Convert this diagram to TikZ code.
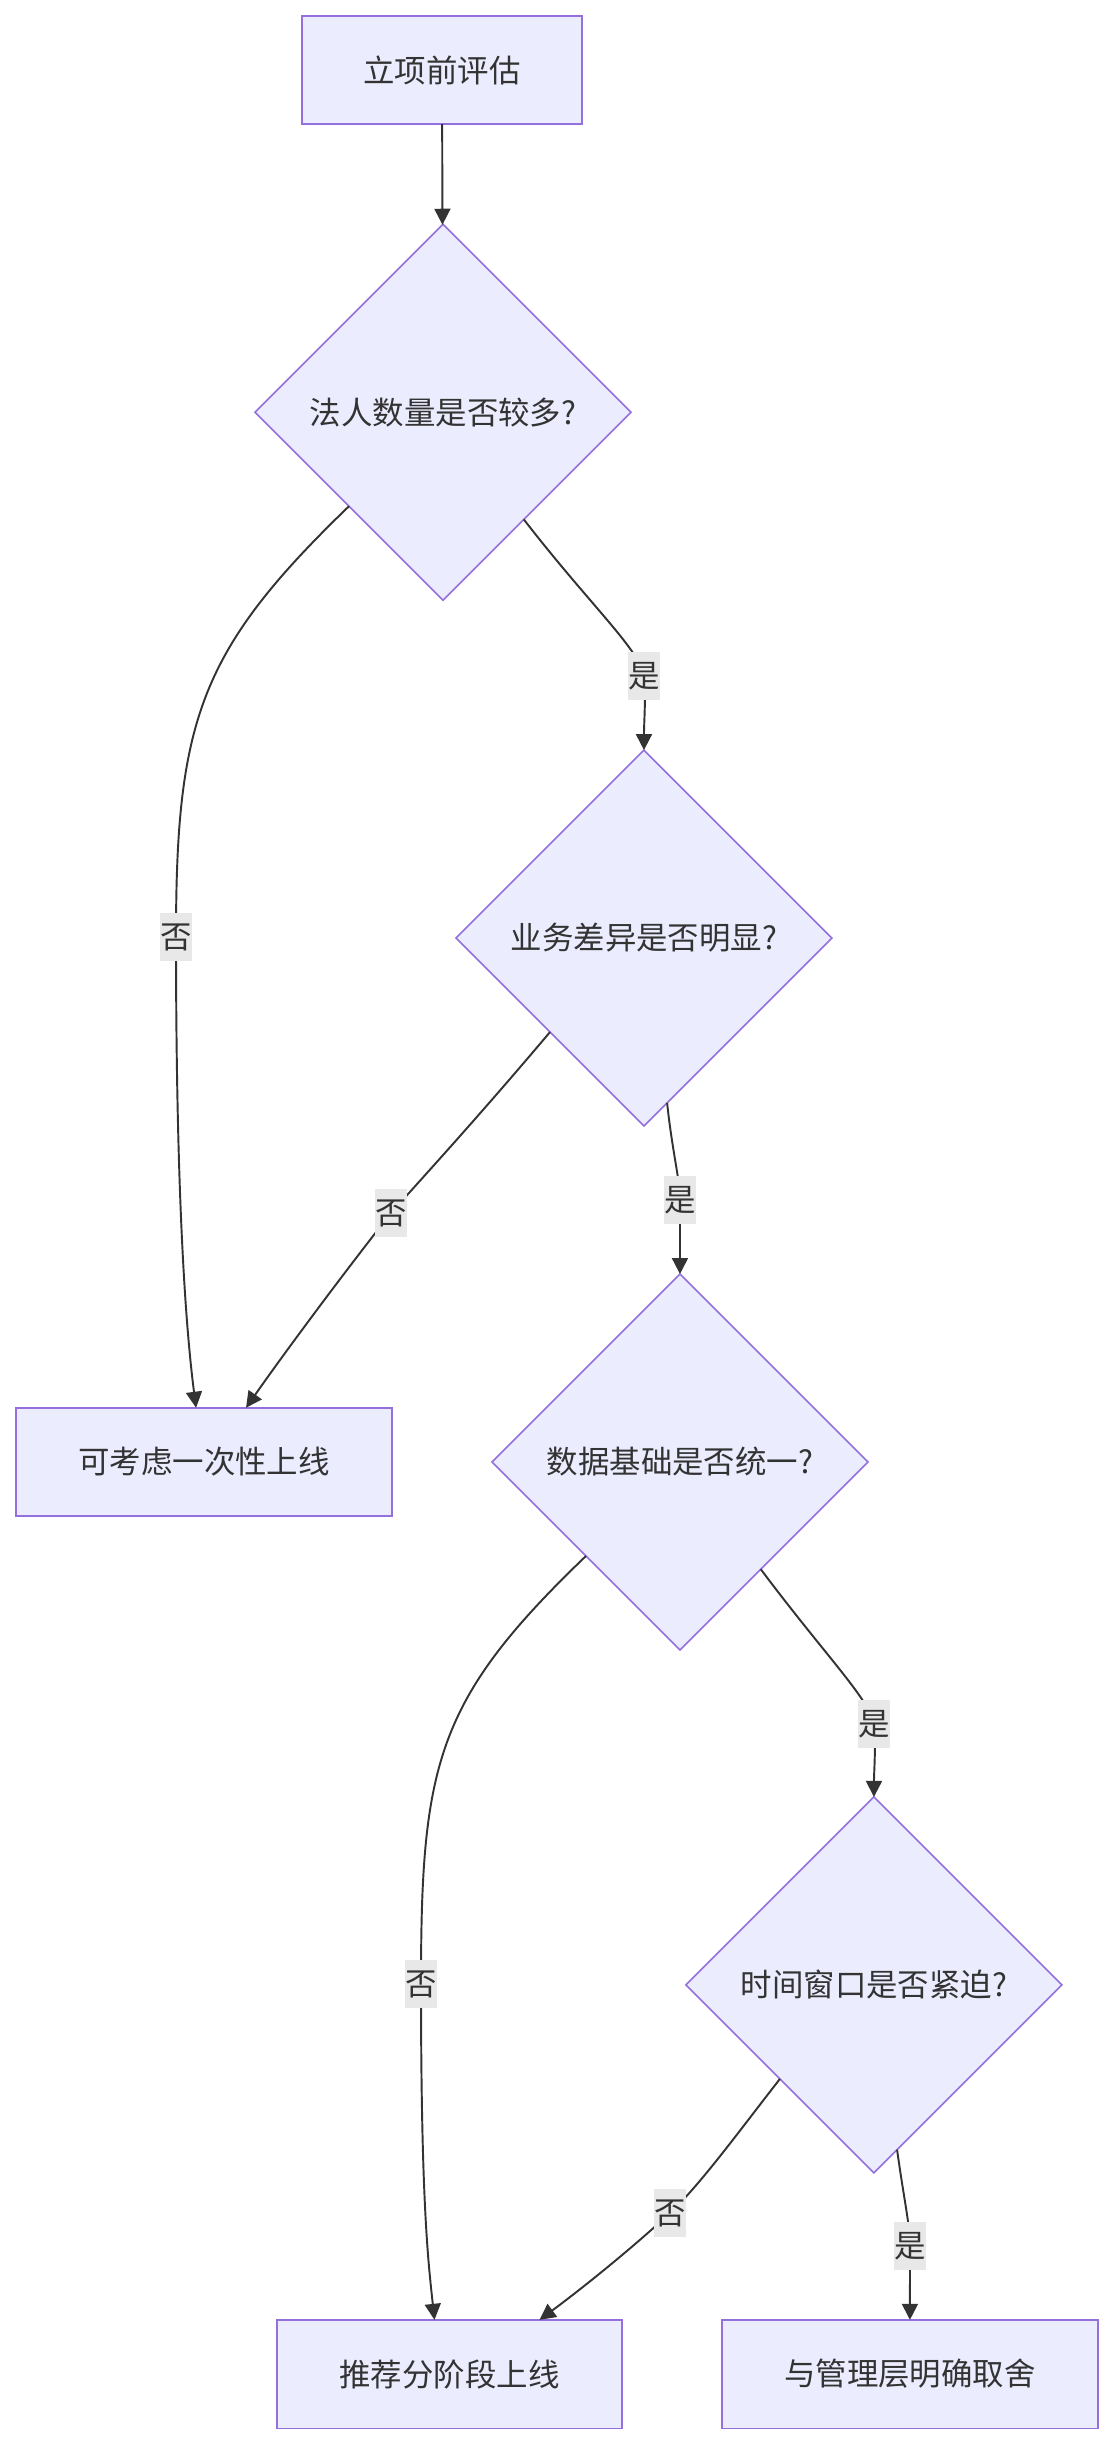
\documentclass[tikz,border=0pt]{standalone}
\usepackage{fontspec}
\setmainfont{Noto Sans CJK SC}
\usetikzlibrary{arrows.meta,positioning,shapes.geometric,calc}
\definecolor{nodefill}{HTML}{ECECFF}
\definecolor{nodeline}{HTML}{9370DB}
\definecolor{inkdark}{HTML}{333333}
\definecolor{lblfill}{HTML}{E8E8E8}

\begin{document}
\begin{tikzpicture}[
	x=0.02cm, y=-0.02cm,
	font=\fontsize{17.9pt}{21pt}\selectfont,
	text=inkdark,
	box/.style={rectangle, draw=nodeline, line width=0.9pt, fill=nodefill, minimum height=2.17cm, outer sep=0pt, align=center},
	decision/.style={diamond, draw=nodeline, line width=0.9pt, fill=nodefill, aspect=1, minimum width=7.52cm, minimum height=7.52cm, inner sep=1pt, outer sep=0pt, align=center},
	lbl/.style={fill=lblfill, inner sep=0pt, minimum width=0.64cm, minimum height=0.96cm},
	arr/.style={-{Triangle[length=0.32cm, width=0.32cm]}, line width=1.1pt, draw=inkdark}
]
\useasboundingbox (0,0) rectangle (1113,2443);
\node[box, minimum width=5.6cm] (start) at (442,70) {立项前评估};
\node[decision, below=2cm of start, xshift=0.02cm] (many) {法人数量是否较多?};
\node[decision, below=3cm of many, xshift=4.02cm] (diff) {业务差异是否明显?};
\node[decision, below=2.96cm of diff, xshift=0.72cm] (data) {数据基础是否统一?};
\node[decision, below=2.94cm of data, xshift=3.88cm] (time) {时间窗口是否紧迫?};
\node[box, minimum width=7.52cm, left=2cm of data] (once) {可考虑一次性上线};
\node[box, minimum width=7.52cm, below=2.94cm of time, xshift=0.72cm] (trade) {与管理层明确取舍};
\node[box, minimum width=6.9cm, left=2cm of trade] (phase) {推荐分阶段上线};

\draw[arr] (start) -- (many);
% 否 分支向左下弯，是 分支向右下
\draw[arr] (many.south west) .. controls (200,650) and (176,720) .. (176,937) node[lbl]{否}
	.. controls (176,1200) and (186,1330) .. ($(once.north)+(-8,0)$);
\draw[arr] (many.-53) .. controls (590,605) and (640,650) .. (644,676) node[lbl]{是}
	.. controls (646,700) and (644,720) .. (diff.north);
\draw[arr] (diff.south west) .. controls (480,1115) and (425,1175) .. (391,1213) node[lbl]{否}
	.. controls (350,1265) and (290,1345) .. ($(once.north)+(42,0)$);
\draw[arr] (diff.-82.5) .. controls (672,1150) and (680,1180) .. (680,1200) node[lbl]{是}
	-- (data.north);
\draw[arr] (data.south west) .. controls (436,1700) and (421,1764) .. (421,1984) node[lbl]{否}
	.. controls (421,2200) and (428,2260) .. ($(phase.north)+(-15,0)$);
\draw[arr] (data.-53) .. controls (825,1655) and (870,1700) .. (874,1724) node[lbl]{是}
	.. controls (876,1748) and (874,1770) .. (time.north);
\draw[arr] (time.south west) .. controls (740,2130) and (700,2185) .. (670,2213) node[lbl]{否}
	.. controls (630,2250) and (580,2290) .. ($(phase.north)+(90,0)$);
\draw[arr] (time.-82) .. controls (904,2200) and (910,2225) .. (910,2246) node[lbl]{是}
	-- (trade.north);
\end{tikzpicture}
\end{document}
